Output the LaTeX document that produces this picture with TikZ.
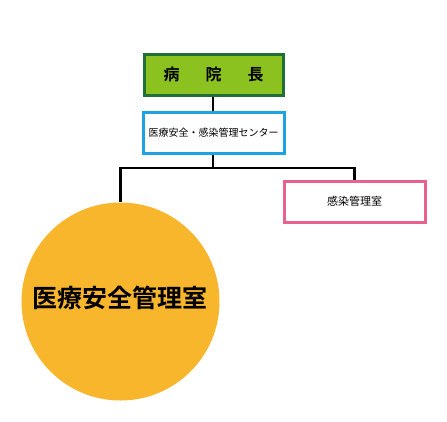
\documentclass[tikz,border=0pt]{standalone}
\usepackage{fontspec}
\newfontfamily\jp{Noto Sans CJK JP}
\newfontfamily\jpb{Noto Sans CJK JP Bold}
\definecolor{hgreen}{HTML}{8CC220}
\definecolor{hgreenb}{HTML}{1E7036}
\definecolor{hblue}{HTML}{1EA2E2}
\definecolor{hpink}{HTML}{E8628F}
\definecolor{horange}{HTML}{F7B62C}
\tikzset{
  boxbase/.style={draw, line width=3pt, inner sep=0pt},
  conn/.style={draw=black, line width=2.4pt},
}
\begin{document}
\begin{tikzpicture}[x=1pt,y=-1pt]
\useasboundingbox (0,0) rectangle (447,421);
\node[boxbase, draw=hgreenb, fill=hgreen, minimum width=139pt, minimum height=41pt,
  font=\jpb\fontsize{16}{16}\selectfont] (chief) at (213.5,74.5) {病\hspace{26pt}院\hspace{26pt}長};
\node[boxbase, draw=hblue, fill=white, minimum width=141pt, minimum height=41pt,
  font=\jp\fontsize{10}{10}\selectfont] (center) at (213.5,133) {医療安全・感染管理センター};
\node[boxbase, draw=hpink, fill=white, minimum width=141pt, minimum height=41pt,
  font=\jp\fontsize{11}{11}\selectfont] (infect) at (354.5,201.5) {感染管理室};
\node[circle, fill=horange, minimum size=198pt, inner sep=0pt] (safety) at (120.5,301.5) {};
\node[font=\jpb\fontsize{25}{25}\selectfont] (safetylbl) at (120,297.5) {医療安全管理室};
\coordinate (split) at (213,168);
\draw[conn] (chief.south -| split) -- (center.north -| split);
\draw[conn] (center.south -| split) -- (split);
\draw[conn] (safety.north) |- (split) -| (infect.north);
\end{tikzpicture}
\end{document}
